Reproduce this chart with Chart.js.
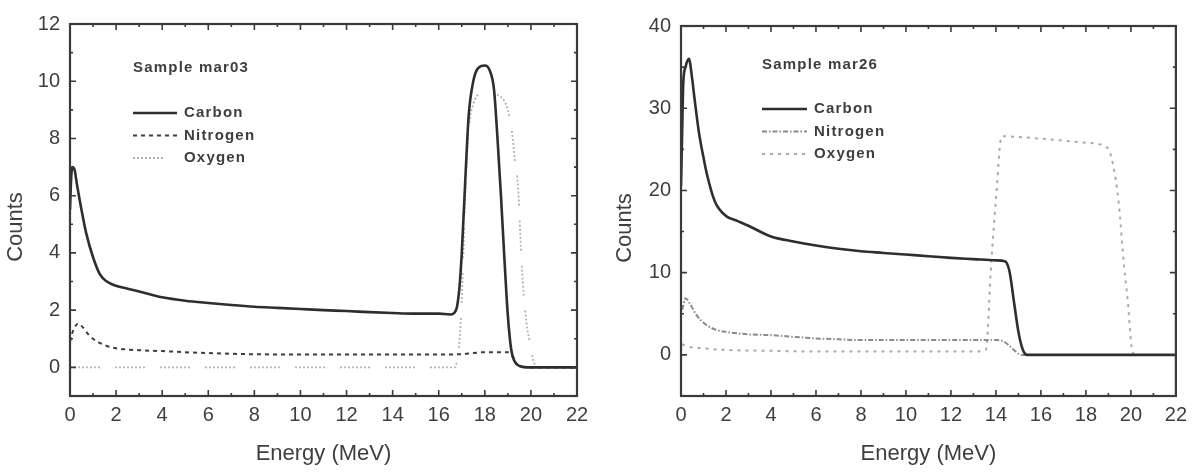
<!DOCTYPE html>
<html>
<head>
<meta charset="utf-8">
<script src="https://cdn.jsdelivr.net/npm/chart.js@4.4.1/dist/chart.umd.min.js"></script>
<style>
    html, body { margin: 0; padding: 0; background: #fff; }
    body { width: 1194px; height: 475px; position: relative; overflow: hidden; }
    .panel { position: absolute; top: 0; height: 475px; }
    #leftPanel { left: 0; width: 597px; }
    #rightPanel { left: 600px; width: 594px; }
    canvas { filter: blur(0.5px); }
</style>
</head>
<body>
<div class="panel" id="leftPanel"><canvas id="chartMar03"></canvas></div>
<div class="panel" id="rightPanel"><canvas id="chartMar26"></canvas></div>
<script>
// ---- tick values ----
const xTickValues = [0, 2, 4, 6, 8, 10, 12, 14, 16, 18, 20, 22];
const xMinorValues = [1, 3, 5, 7, 9, 11, 13, 15, 17, 19, 21];
const yTicksMar03 = [0, 2, 4, 6, 8, 10, 12];
const yMinorMar03 = [-1, 1, 3, 5, 7, 9, 11];
const yTicksMar26 = [0, 10, 20, 30, 40];
const yMinorMar26 = [-5, 5, 15, 25, 35];

// ---- sample mar03 ----
const carbonEnergy03 = [0, 0.05, 0.1, 0.2, 0.3, 0.5, 0.7, 1.0, 1.3, 1.6, 2.0, 2.5, 3.0, 3.5, 4.0, 5.0, 6.0, 7.0, 8.0, 9.0, 10.0, 11.0, 12.0, 13.0, 14.0, 15.0, 16.0, 16.5, 16.75, 16.9, 17.0, 17.15, 17.3, 17.5, 17.7, 18.0, 18.2, 18.4, 18.55, 18.7, 18.85, 19.0, 19.15, 19.3, 19.5, 20.0, 22.0];
const carbonCounts03 = [5.5, 6.6, 7.0, 6.9, 6.4, 5.5, 4.7, 3.85, 3.25, 3.0, 2.85, 2.75, 2.65, 2.55, 2.45, 2.33, 2.25, 2.18, 2.12, 2.08, 2.04, 2.0, 1.97, 1.93, 1.9, 1.88, 1.88, 1.85, 2.0, 2.8, 4.0, 6.5, 8.8, 10.0, 10.45, 10.55, 10.4, 9.7, 8.0, 6.0, 3.8, 1.8, 0.6, 0.2, 0.05, 0, 0];
const nitrogenEnergy03 = [0, 0.1, 0.2, 0.35, 0.5, 0.8, 1.0, 1.5, 2.0, 3.0, 4.0, 5.0, 6.0, 8.0, 10.0, 12.0, 14.0, 16.0, 17.0, 17.5, 18.0, 19.0, 19.2, 19.4, 19.6, 20.0, 22.0];
const nitrogenCounts03 = [0.9, 1.2, 1.4, 1.53, 1.45, 1.15, 1.0, 0.78, 0.67, 0.6, 0.57, 0.53, 0.5, 0.46, 0.45, 0.45, 0.45, 0.45, 0.46, 0.5, 0.53, 0.53, 0.4, 0.1, 0.02, 0, 0];
const oxygenEnergy03 = [0, 16.7, 16.8, 16.95, 17.05, 17.15, 17.3, 17.5, 17.8, 18.2, 18.7, 19.0, 19.15, 19.3, 19.45, 19.6, 19.8, 19.95, 20.1, 20.3, 22];
const oxygenCounts03 = [0, 0, 0.3, 1.5, 3.5, 6.0, 8.3, 9.2, 9.55, 9.55, 9.45, 9.0, 8.4, 7.3, 6.2, 3.6, 1.6, 0.9, 0.25, 0, 0];

// ---- sample mar26 ----
const carbonEnergy26 = [0, 0.05, 0.1, 0.2, 0.35, 0.5, 0.6, 0.8, 1.0, 1.15, 1.5, 2.0, 2.5, 3.0, 4.0, 5.0, 6.0, 7.0, 8.0, 9.0, 10.0, 11.0, 12.0, 13.0, 14.0, 14.4, 14.6, 14.8, 15.0, 15.2, 15.4, 22];
const carbonCounts26 = [20.5, 27, 33, 35, 36, 33.5, 31.2, 27, 24, 22, 18.7, 16.9, 16.3, 15.7, 14.4, 13.8, 13.3, 12.9, 12.6, 12.4, 12.2, 12.0, 11.8, 11.65, 11.5, 11.4, 10.2, 6.5, 2.8, 0.6, 0, 0];
const nitrogenEnergy26 = [0.05, 0.2, 0.4, 0.7, 1.0, 1.5, 2.0, 3.0, 4.0, 5.0, 6.0, 7.0, 8.0, 10.0, 12.0, 14.0, 14.3, 14.6, 14.8, 15.0, 15.2, 22];
const nitrogenCounts26 = [5.5, 6.9, 6.2, 4.8, 3.9, 3.1, 2.8, 2.5, 2.4, 2.2, 2.0, 1.9, 1.8, 1.8, 1.8, 1.8, 1.7, 1.1, 0.6, 0.15, 0, 0];
const oxygenEnergy26 = [0.05, 0.3, 1.0, 2.0, 4.0, 6.0, 8.0, 10.0, 13.0, 13.55, 13.8, 14.05, 14.2, 14.3, 15.0, 16.4, 18.0, 18.95, 19.2, 19.45, 19.7, 19.86, 20.05, 20.2, 22];
const oxygenCounts26 = [1.3, 1.0, 0.8, 0.6, 0.5, 0.4, 0.4, 0.4, 0.4, 0.6, 11.5, 20.7, 26, 26.6, 26.5, 26.2, 25.8, 25.2, 23.2, 18.7, 10.7, 6.6, 0.6, 0, 0];

const TEXT_COLOR = '#3e3e3e';
const FONT = "'Liberation Sans', Arial, sans-serif";

function toPoints(xs, ys) {
    return xs.map((x, i) => ({ x: x, y: ys[i] }));
}

// box frame + inward ticks on all four sides
const frameTicks = {
    id: 'frameTicks',
    afterDatasetsDraw(chart, args, opts) {
        const ctx = chart.ctx;
        const a = chart.chartArea;
        const xs = chart.scales.x;
        const ys = chart.scales.y;
        ctx.save();
        ctx.strokeStyle = '#3a3a3a';
        ctx.lineWidth = 1.6;
        ctx.beginPath();
        const drawX = (vals, len) => vals.forEach(v => {
            const p = xs.getPixelForValue(v);
            ctx.moveTo(p, a.bottom); ctx.lineTo(p, a.bottom - len);
            ctx.moveTo(p, a.top); ctx.lineTo(p, a.top + len);
        });
        const drawY = (vals, len) => vals.forEach(v => {
            const p = ys.getPixelForValue(v);
            ctx.moveTo(a.left, p); ctx.lineTo(a.left + len, p);
            ctx.moveTo(a.right, p); ctx.lineTo(a.right - len, p);
        });
        drawX(xTickValues, 6);
        drawX(xMinorValues, 3);
        drawY(opts.yMajor, 6);
        drawY(opts.yMinor, 3);
        ctx.stroke();
        ctx.lineWidth = 2.2;
        ctx.strokeRect(a.left, a.top, a.width, a.height);
        ctx.restore();
    }
};

// rotated "Counts" title, a little below the axis centre as in the original
const countsTitle = {
    id: 'countsTitle',
    afterDraw(chart, args, opts) {
        const ctx = chart.ctx;
        const a = chart.chartArea;
        ctx.save();
        ctx.fillStyle = TEXT_COLOR;
        ctx.font = '22px ' + FONT;
        ctx.textAlign = 'center';
        ctx.textBaseline = 'middle';
        ctx.translate(opts.x, (a.top + a.bottom) / 2 + opts.shift);
        ctx.rotate(-Math.PI / 2);
        ctx.fillText('Counts', 0, 0);
        ctx.restore();
    }
};

// "Sample ..." caption and line-sample legend inside the plot
const sampleLegend = {
    id: 'sampleLegend',
    afterDraw(chart, args, opts) {
        const ctx = chart.ctx;
        ctx.save();
        ctx.fillStyle = TEXT_COLOR;
        ctx.font = 'bold 15px ' + FONT;
        ctx.letterSpacing = '1.2px';
        ctx.textBaseline = 'middle';
        ctx.fillText(opts.caption, opts.left, opts.captionY);
        chart.data.datasets.forEach((ds, i) => {
            const y = opts.firstY + i * opts.rowGap;
            ctx.save();
            ctx.strokeStyle = ds.borderColor;
            ctx.lineWidth = ds.borderWidth;
            ctx.setLineDash(ds.borderDash || []);
            ctx.beginPath();
            ctx.moveTo(opts.left, y);
            ctx.lineTo(opts.left + opts.sampleWidth, y);
            ctx.stroke();
            ctx.restore();
            ctx.fillText(ds.label, opts.left + opts.sampleWidth + 7, y);
        });
        ctx.restore();
    }
};

function makeChart(canvasId, cfg) {
    const ctx = document.getElementById(canvasId).getContext('2d');
    return new Chart(ctx, {
        type: 'line',
        data: { datasets: cfg.datasets },
        options: {
            responsive: true,
            maintainAspectRatio: false,
            animation: false,
            layout: { padding: cfg.padding },
            elements: {
                point: { radius: 0 },
                line: { cubicInterpolationMode: 'monotone' }
            },
            plugins: {
                legend: { display: false },
                tooltip: { enabled: false },
                frameTicks: { yMajor: cfg.yMajor, yMinor: cfg.yMinor },
                countsTitle: { x: cfg.yTitleX, shift: 17 },
                sampleLegend: cfg.legend
            },
            scales: {
                x: {
                    type: 'linear',
                    min: 0,
                    max: 22,
                    afterBuildTicks: scale => { scale.ticks = xTickValues.map(v => ({ value: v })); },
                    afterFit: scale => { scale.height = 79; },
                    grid: { display: false, drawTicks: false },
                    border: { display: false },
                    ticks: {
                        autoSkip: false,
                        maxRotation: 0,
                        padding: 7,
                        color: TEXT_COLOR,
                        font: { family: FONT, size: 20 }
                    },
                    title: {
                        display: true,
                        text: 'Energy (MeV)',
                        color: TEXT_COLOR,
                        font: { family: FONT, size: 22 },
                        padding: { top: 0, bottom: 8 }
                    }
                },
                y: {
                    type: 'linear',
                    min: cfg.yMin,
                    max: cfg.yMax,
                    afterBuildTicks: scale => { scale.ticks = cfg.yMajor.map(v => ({ value: v })); },
                    afterFit: scale => { scale.width = cfg.yWidth; },
                    grid: { display: false, drawTicks: false },
                    border: { display: false },
                    ticks: {
                        padding: 10,
                        color: TEXT_COLOR,
                        font: { family: FONT, size: 20 }
                    },
                    title: { display: false }
                }
            }
        },
        plugins: [frameTicks, countsTitle, sampleLegend]
    });
}

document.addEventListener('DOMContentLoaded', function() {
    makeChart('chartMar03', {
        padding: { top: 24, right: 20, left: 0, bottom: 0 },
        yMin: -1, yMax: 12, yWidth: 70, yTitleX: 16,
        yMajor: yTicksMar03, yMinor: yMinorMar03,
        legend: { caption: 'Sample mar03', left: 133, captionY: 68, firstY: 113, rowGap: 22.5, sampleWidth: 44 },
        datasets: [
            {
                label: 'Carbon',
                data: toPoints(carbonEnergy03, carbonCounts03),
                borderColor: '#2e2e2e',
                borderWidth: 2.6
            },
            {
                label: 'Nitrogen',
                data: toPoints(nitrogenEnergy03, nitrogenCounts03),
                borderColor: '#3c3c3c',
                borderWidth: 2,
                borderDash: [4, 4]
            },
            {
                label: 'Oxygen',
                data: toPoints(oxygenEnergy03, oxygenCounts03),
                borderColor: '#b4b4b4',
                borderWidth: 1.8,
                borderDash: [2, 2, 2, 2, 2, 2, 2, 2, 2, 2, 2, 2, 2, 2, 2, 15]
            }
        ]
    });

    makeChart('chartMar26', {
        padding: { top: 26, right: 13, left: 0, bottom: 0 },
        yMin: -5, yMax: 40, yWidth: 81, yTitleX: 25,
        yMajor: yTicksMar26, yMinor: yMinorMar26,
        legend: { caption: 'Sample mar26', left: 162, captionY: 65, firstY: 109, rowGap: 22.5, sampleWidth: 45 },
        datasets: [
            {
                label: 'Carbon',
                data: toPoints(carbonEnergy26, carbonCounts26),
                borderColor: '#2e2e2e',
                borderWidth: 2.6
            },
            {
                label: 'Nitrogen',
                data: toPoints(nitrogenEnergy26, nitrogenCounts26),
                borderColor: '#8a8a8a',
                borderWidth: 2,
                borderDash: [5, 2, 1.5, 2]
            },
            {
                label: 'Oxygen',
                data: toPoints(oxygenEnergy26, oxygenCounts26),
                borderColor: '#aaaaaa',
                borderWidth: 2,
                borderDash: [3, 5]
            }
        ]
    });
});
</script>
</body>
</html>
